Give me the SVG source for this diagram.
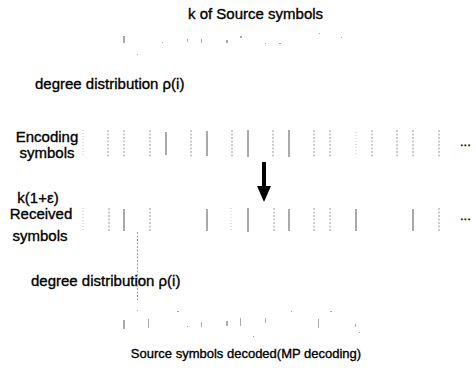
<svg xmlns="http://www.w3.org/2000/svg" width="476" height="374" viewBox="0 0 476 374">
  <style>
    .lbl { font-family: "Liberation Sans", Arial, sans-serif; font-size: 15px; fill: #000; stroke: #000; stroke-width: 0.35; }
    .mid { text-anchor: middle; }
    .edge { stroke: #9a9a9a; stroke-width: 1; stroke-dasharray: 2 1.5; fill: none; }
    .edge-d { stroke: #555; stroke-width: 1; fill: none; }
    .edge-f { stroke: #c8c8c8; stroke-width: 1; stroke-dasharray: 1 2; fill: none; }
    .speck { fill: #aaa; }
  </style>

  <!-- titles and row labels -->
  <g id="label-source">
    <text class="lbl" x="188" y="19">k of Source symbols</text>
  </g>
  <g id="label-degree-top">
    <text class="lbl" x="35" y="89">degree distribution ρ(i)</text>
  </g>
  <g id="label-encoding">
    <text class="lbl mid" x="47" y="142">Encoding</text>
    <text class="lbl mid" x="47" y="158">symbols</text>
  </g>
  <g id="label-received">
    <text class="lbl mid" x="38" y="203">k(1+ε)</text>
    <text class="lbl mid" x="41" y="219">Received</text>
    <text class="lbl mid" x="40" y="241">symbols</text>
  </g>
  <g id="label-degree-bottom">
    <text class="lbl" x="31" y="286">degree distribution ρ(i)</text>
  </g>
  <g id="label-decoded">
    <text class="lbl mid" x="246" y="358" style="font-size:13px">Source symbols decoded(MP decoding)</text>
  </g>

  <!-- source symbol row (faint) -->
  <g id="row-source">
    <line class="edge-d" x1="124" y1="36" x2="124" y2="43"/>
    <rect class="speck" x="162" y="42" width="1" height="1"/>
    <rect class="speck" x="187" y="39" width="1" height="3"/>
    <rect class="speck" x="201" y="39" width="1" height="4"/>
    <rect class="speck" x="226" y="40" width="2" height="3"/>
    <rect class="speck" x="240" y="36" width="2" height="2"/>
    <rect class="speck" x="265" y="43" width="1" height="1"/>
    <rect class="speck" x="279" y="43" width="2" height="1"/>
    <rect class="speck" x="319" y="33" width="1" height="1"/>
    <rect class="speck" x="341" y="37" width="1" height="1"/>
    <rect class="speck" x="137" y="54" width="1" height="1"/>
  </g>

  <!-- encoding symbol row -->
  <g id="row-encoding">
    <line class="edge-f" x1="83" y1="130" x2="83" y2="157"/>
    <line class="edge" x1="108" y1="130" x2="108" y2="157"/>
    <line class="edge" x1="124" y1="130" x2="124" y2="157"/>
    <line class="edge" x1="150" y1="130" x2="150" y2="157"/>
    <line class="edge-d" x1="166" y1="132" x2="166" y2="155"/>
    <line class="edge" x1="191" y1="130" x2="191" y2="157"/>
    <line class="edge-d" x1="207" y1="131" x2="207" y2="156"/>
    <line class="edge" x1="232" y1="130" x2="232" y2="157"/>
    <line class="edge-d" x1="248" y1="130" x2="248" y2="157"/>
    <line class="edge" x1="273" y1="130" x2="273" y2="157"/>
    <line class="edge-d" x1="289" y1="130" x2="289" y2="157"/>
    <line class="edge" x1="314" y1="130" x2="314" y2="157"/>
    <line class="edge" x1="330" y1="130" x2="330" y2="157"/>
    <line class="edge-f" x1="356" y1="132" x2="356" y2="155"/>
    <line class="edge" x1="372" y1="130" x2="372" y2="157"/>
    <line class="edge" x1="397" y1="130" x2="397" y2="157"/>
    <line class="edge" x1="413" y1="130" x2="413" y2="157"/>
    <line class="edge" x1="439" y1="130" x2="439" y2="157"/>
    <text class="lbl" x="460" y="146" style="font-size:13px">...</text>
  </g>

  <!-- received symbol row -->
  <g id="row-received">
    <line class="edge-f" x1="83" y1="208" x2="83" y2="232"/>
    <line class="edge" x1="109" y1="208" x2="109" y2="232"/>
    <line class="edge-d" x1="124" y1="209" x2="124" y2="231"/>
    <line class="edge" x1="150" y1="208" x2="150" y2="232"/>
    <line class="edge-d" x1="207" y1="209" x2="207" y2="231"/>
    <line class="edge-f" x1="231" y1="208" x2="231" y2="232"/>
    <line class="edge-d" x1="248" y1="208" x2="248" y2="232"/>
    <line class="edge" x1="274" y1="208" x2="274" y2="232"/>
    <line class="edge-d" x1="289" y1="209" x2="289" y2="231"/>
    <line class="edge" x1="314" y1="208" x2="314" y2="232"/>
    <line class="edge" x1="330" y1="208" x2="330" y2="232"/>
    <line class="edge-d" x1="356" y1="209" x2="356" y2="231"/>
    <line class="edge-d" x1="413" y1="209" x2="413" y2="231"/>
    <line class="edge" x1="439" y1="208" x2="439" y2="232"/>
    <text class="lbl" x="460" y="220" style="font-size:13px">...</text>
  </g>

  <!-- decoded symbol row (faint) -->
  <g id="row-decoded">
    <line class="edge-d" x1="124" y1="320" x2="124" y2="329"/>
    <rect class="speck" x="148" y="319" width="1" height="9"/>
    <rect class="speck" x="137" y="310" width="1" height="1"/>
    <rect class="speck" x="177" y="311" width="2" height="1"/>
    <rect class="speck" x="187" y="326" width="1" height="1"/>
    <rect class="speck" x="201" y="322" width="1" height="5"/>
    <rect class="speck" x="226" y="321" width="2" height="5"/>
    <rect class="speck" x="240" y="318" width="1" height="8"/>
    <rect class="speck" x="253" y="336" width="1" height="1"/>
    <rect class="speck" x="265" y="318" width="1" height="5"/>
    <rect class="speck" x="291" y="311" width="1" height="1"/>
    <rect class="speck" x="318" y="319" width="1" height="9"/>
    <rect class="speck" x="330" y="311" width="2" height="1"/>
    <rect class="speck" x="355" y="324" width="1" height="3"/>
    <rect class="speck" x="359" y="332" width="1" height="1"/>
  </g>

  <!-- connectors -->
  <g id="connectors">
    <path d="M262 162 H266 V186 H271 L264 202 L257 186 H262 Z" fill="#000"/>
    <line class="edge" x1="137.5" y1="232" x2="137.5" y2="300"/>
  </g>
</svg>
